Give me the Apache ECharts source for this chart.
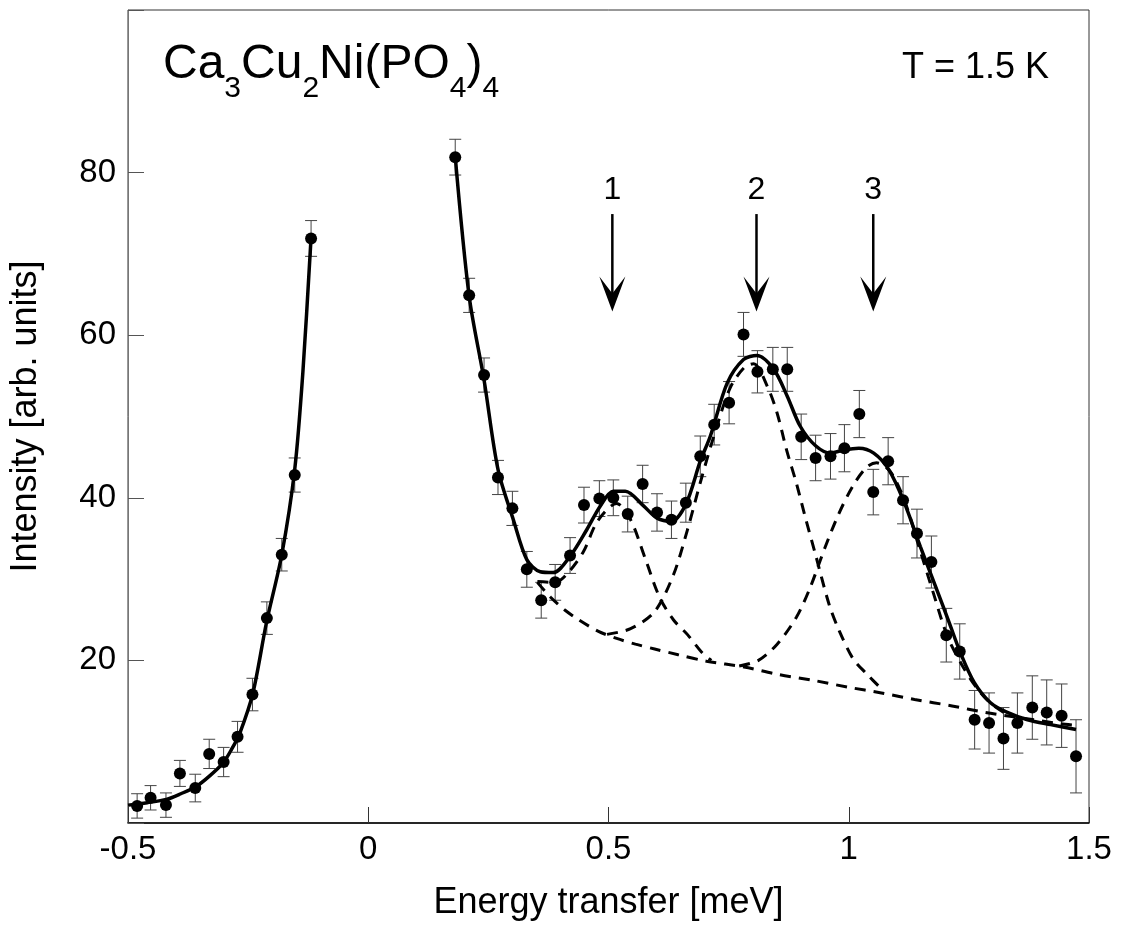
<!DOCTYPE html>
<html>
<head>
<meta charset="utf-8">
<title>Ca3Cu2Ni(PO4)4 energy transfer</title>
<script src="https://cdn.jsdelivr.net/npm/echarts@6/dist/echarts.min.js"></script>
<style>
  html, body { margin: 0; padding: 0; background: #fff; }
  #chart { width: 1121px; height: 926px; }
</style>
</head>
<body>
<div id="chart"></div>
<script>
const FONT = '"Liberation Sans", Arial, Helvetica, sans-serif'

// measured points, energy loss < 0 side
const negE = [-0.481, -0.453, -0.421, -0.392, -0.360, -0.331, -0.301, -0.272, -0.241, -0.211, -0.180, -0.153, -0.119]
const negI = [2.1, 3.1, 2.2, 6.1, 4.3, 8.5, 7.5, 10.6, 15.8, 25.2, 33.0, 42.8, 71.9]
const negErr = [1.5, 1.5, 1.5, 1.6, 1.7, 1.8, 1.8, 1.9, 2.0, 2.0, 2.0, 2.1, 2.2]

// measured points, energy loss > 0 side
const posE = [0.181, 0.210, 0.241, 0.270, 0.300, 0.330, 0.360, 0.389, 0.420, 0.449,
  0.481, 0.510, 0.540, 0.571, 0.601, 0.631, 0.661, 0.691, 0.720, 0.751,
  0.781, 0.810, 0.842, 0.872, 0.901, 0.931, 0.962, 0.991, 1.022, 1.051,
  1.082, 1.113, 1.142, 1.172, 1.203, 1.231, 1.262, 1.292, 1.322, 1.351,
  1.382, 1.412, 1.443, 1.473]
const posI = [81.9, 64.9, 55.1, 42.5, 38.7, 31.2, 27.4, 29.6, 32.9, 39.1,
  39.9, 40.0, 38.0, 41.7, 38.2, 37.3, 39.4, 45.1, 49.0, 51.7,
  60.1, 55.5, 55.8, 55.8, 47.5, 44.9, 45.1, 46.1, 50.3, 40.7,
  44.5, 39.7, 35.6, 32.1, 23.1, 21.1, 12.7, 12.3, 10.4, 12.3,
  14.2, 13.6, 13.2, 8.2]
const posErr = [2.2, 2.1, 2.1, 2.1, 2.1, 2.2, 2.2, 2.2, 2.2, 2.2,
  2.2, 2.2, 2.2, 2.3, 2.3, 2.3, 2.4, 2.5, 2.5, 2.6,
  2.7, 2.6, 2.7, 2.7, 2.8, 2.8, 2.8, 2.9, 2.9, 2.8,
  2.9, 2.9, 3.0, 3.2, 3.3, 3.4, 3.6, 3.7, 3.8, 3.7,
  3.9, 4.0, 3.9, 4.5]

// total fit (solid)
const fitNegE = [-0.5, -0.46, -0.42, -0.39, -0.358, -0.33, -0.302, -0.285, -0.267, -0.24, -0.212, -0.18, -0.153, -0.136, -0.119]
const fitNegI = [2.2, 2.5, 2.9, 3.6, 4.5, 5.8, 7.4, 9.0, 11.1, 16.0, 24.6, 33.0, 43.5, 55.5, 72.0]
const fitPosE = [0.181, 0.210, 0.241, 0.270, 0.302, 0.330, 0.358, 0.385, 0.420, 0.455,
  0.483, 0.510, 0.535, 0.573, 0.601, 0.631, 0.661, 0.691, 0.712, 0.747,
  0.781, 0.809, 0.844, 0.872, 0.899, 0.931, 0.962, 0.991, 1.021, 1.052,
  1.083, 1.115, 1.149, 1.180, 1.210, 1.232, 1.261, 1.295, 1.330, 1.372,
  1.420, 1.473]
const fitPosI = [82.0, 64.8, 54.5, 43.5, 37.3, 32.4, 30.9, 30.8, 32.8, 36.1,
  39.0, 40.8, 40.8, 39.0, 37.5, 37.1, 39.2, 44.5, 47.6, 54.1,
  57.0, 57.5, 55.8, 52.5, 48.8, 46.4, 45.5, 45.9, 46.1, 45.5,
  43.5, 39.5, 34.0, 29.2, 24.5, 21.0, 17.3, 14.8, 13.6, 12.7,
  12.1, 11.5]

// background and the three components (dashed)
const bgE = [0.352, 0.379, 0.409, 0.438, 0.478, 0.517, 0.556, 0.596, 0.645, 0.704, 0.782, 0.851, 0.930, 0.999, 1.068, 1.137, 1.215, 1.284, 1.363, 1.441, 1.473]
const bgI = [29.6, 27.8, 26.2, 25.0, 23.6, 22.7, 22.0, 21.4, 20.7, 19.9, 19.2, 18.3, 17.5, 16.7, 16.0, 15.2, 14.4, 13.6, 12.9, 12.2, 12.0]
const peak1E = [0.352, 0.389, 0.419, 0.448, 0.478, 0.517, 0.546, 0.576, 0.606, 0.635, 0.664, 0.694, 0.714]
const peak1I = [29.7, 29.6, 31.0, 33.4, 37.2, 39.3, 37.3, 32.6, 27.8, 25.0, 23.2, 21.0, 20.0]
const peak2E = [0.497, 0.546, 0.596, 0.635, 0.664, 0.694, 0.724, 0.753, 0.782, 0.802, 0.832, 0.851, 0.871, 0.891, 0.910, 0.930, 0.959, 0.979, 1.009, 1.038, 1.068]
const peak2I = [23.2, 23.9, 26.0, 30.5, 36.0, 42.5, 48.5, 53.5, 56.0, 56.5, 53.5, 50.4, 45.8, 41.8, 37.5, 33.2, 26.9, 23.8, 20.2, 18.3, 16.5]
const peak3E = [0.772, 0.812, 0.851, 0.891, 0.920, 0.950, 0.979, 1.009, 1.038, 1.058, 1.087, 1.117, 1.146, 1.176, 1.205, 1.235, 1.264, 1.294, 1.323]
const peak3I = [19.3, 20.0, 22.0, 25.3, 29.0, 33.8, 38.0, 41.5, 43.8, 44.3, 43.2, 39.5, 34.0, 28.3, 23.0, 19.5, 16.8, 14.8, 13.6]

// excitation markers
const arrowE = [0.508, 0.808, 1.051]
const arrowLabels = ['1', '2', '3']
const arrowTail = 74.9
const arrowTip = 62.9
const arrowText = 77.8

const chart = echarts.init(document.getElementById('chart'))

const zip = (xs, ys) => xs.map((x, i) => [x, ys[i]])
const zip3 = (xs, ys, es) => xs.map((x, i) => [x, ys[i], es[i]])

// error bar with caps
function renderErr(params, api) {
  const x = api.value(0)
  const y = api.value(1)
  const e = api.value(2)
  const hi = api.coord([x, y + e])
  const lo = api.coord([x, y - e])
  const half = 6
  const st = { stroke: '#444', lineWidth: 1 }
  return {
    type: 'group',
    children: [
      { type: 'line', shape: { x1: hi[0], y1: hi[1], x2: lo[0], y2: lo[1] }, style: st },
      { type: 'line', shape: { x1: hi[0] - half, y1: hi[1], x2: hi[0] + half, y2: hi[1] }, style: st },
      { type: 'line', shape: { x1: lo[0] - half, y1: lo[1], x2: lo[0] + half, y2: lo[1] }, style: st }
    ]
  }
}

// arrow pointing down at the excitation, with its number above
function renderArrow(params, api) {
  const x = api.value(0)
  const tail = api.coord([x, arrowTail])
  const tip = api.coord([x, arrowTip])
  const txt = api.coord([x, arrowText])
  const w = 13, h = 35, notch = 17
  return {
    type: 'group',
    children: [
      { type: 'line', shape: { x1: tail[0], y1: tail[1], x2: tip[0], y2: tip[1] - notch }, style: { stroke: '#000', lineWidth: 2.5 } },
      { type: 'polygon', shape: { points: [[tip[0], tip[1]], [tip[0] - w, tip[1] - h], [tip[0], tip[1] - h + notch], [tip[0] + w, tip[1] - h]] }, style: { fill: '#000' } },
      { type: 'text', x: txt[0], y: txt[1], style: { text: arrowLabels[params.dataIndex], font: '32px ' + FONT, fill: '#000', align: 'center', verticalAlign: 'middle' } }
    ]
  }
}

// formula title with subscripts, pieces laid out with measured widths
const ctx = document.createElement('canvas').getContext('2d')
function textW(str, size) {
  ctx.font = size + 'px ' + FONT
  return ctx.measureText(str).width
}
const titleParts = [['Ca', 0], ['3', 1], ['Cu', 0], ['2', 1], ['Ni(PO', 0], ['4', 1], [')', 0], ['4', 1]]
const titleX = 163, titleBase = 82, mainSize = 48, subSize = 30, subDrop = 18
const titleEls = []
let cx = titleX
titleParts.forEach(([s, sub]) => {
  const size = sub ? subSize : mainSize
  titleEls.push({
    type: 'text',
    left: cx,
    top: titleBase + (sub ? subDrop : 0) - size * 0.86,
    style: { text: s, font: size + 'px ' + FONT, fill: '#000' }
  })
  cx += textW(s, size)
})

const option = {
  animation: false,
  backgroundColor: '#fff',
  grid: { left: 128, right: 32, top: 10, bottom: 101, show: true, borderColor: '#333', borderWidth: 1 },
  xAxis: {
    type: 'value',
    min: -0.5,
    max: 1.5,
    interval: 0.5,
    name: 'Energy transfer [meV]',
    nameLocation: 'middle',
    nameGap: 62,
    nameTextStyle: { fontSize: 36, fontFamily: FONT, color: '#000' },
    axisLine: { onZero: false, lineStyle: { color: '#000', width: 1.5 } },
    axisTick: { inside: true, length: 16, lineStyle: { color: '#333', width: 1 } },
    axisLabel: { fontSize: 33, fontFamily: FONT, color: '#000', margin: 10, showMinLabel: true, showMaxLabel: true },
    splitLine: { show: false }
  },
  yAxis: {
    type: 'value',
    min: 0,
    max: 100,
    interval: 20,
    name: 'Intensity [arb. units]',
    nameLocation: 'middle',
    nameGap: 84,
    nameTextStyle: { fontSize: 36, fontFamily: FONT, color: '#000' },
    axisLine: { onZero: false, lineStyle: { color: '#777', width: 1 } },
    axisTick: { inside: true, length: 16, lineStyle: { color: '#555', width: 1 } },
    axisLabel: {
      fontSize: 33, fontFamily: FONT, color: '#000', margin: 12,
      formatter: v => (v === 0 || v === 100) ? '' : String(v)
    },
    splitLine: { show: false }
  },
  graphic: [
    { type: 'group', children: titleEls },
    { type: 'text', left: 902, top: 50, style: { text: 'T = 1.5 K', font: '36px ' + FONT, fill: '#000' } }
  ],
  series: [
    { type: 'line', data: zip(bgE, bgI), showSymbol: false, smooth: 0.3, lineStyle: { color: '#000', width: 3, type: [11, 8] } },
    { type: 'line', data: zip(peak1E, peak1I), showSymbol: false, smooth: 0.3, lineStyle: { color: '#000', width: 3, type: [11, 8] } },
    { type: 'line', data: zip(peak2E, peak2I), showSymbol: false, smooth: 0.3, lineStyle: { color: '#000', width: 3, type: [11, 8] } },
    { type: 'line', data: zip(peak3E, peak3I), showSymbol: false, smooth: 0.3, lineStyle: { color: '#000', width: 3, type: [11, 8] } },
    { type: 'line', data: zip(fitNegE, fitNegI), showSymbol: false, smooth: 0.3, lineStyle: { color: '#000', width: 3.5 } },
    { type: 'line', data: zip(fitPosE, fitPosI), showSymbol: false, smooth: 0.3, lineStyle: { color: '#000', width: 3.5 } },
    { type: 'custom', renderItem: renderErr, data: zip3(negE, negI, negErr), z: 3 },
    { type: 'custom', renderItem: renderErr, data: zip3(posE, posI, posErr), z: 3 },
    { type: 'scatter', data: zip(negE, negI), symbolSize: 12, itemStyle: { color: '#000', opacity: 1 }, z: 4 },
    { type: 'scatter', data: zip(posE, posI), symbolSize: 12, itemStyle: { color: '#000', opacity: 1 }, z: 4 },
    { type: 'custom', renderItem: renderArrow, data: arrowE.map(e => [e]), z: 5 }
  ]
}

chart.setOption(option)
</script>
</body>
</html>
